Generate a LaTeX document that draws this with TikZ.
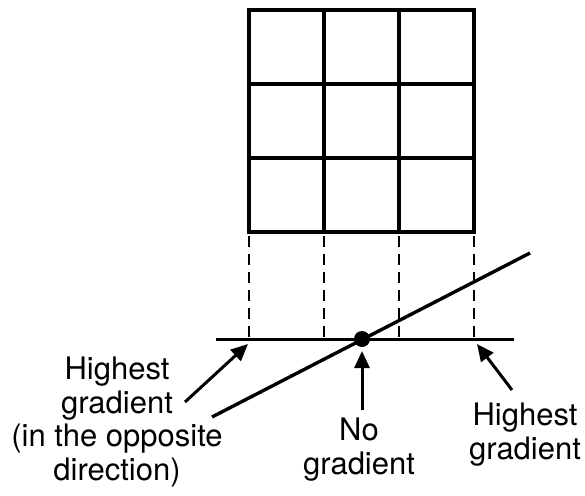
\documentclass[tikz,border=0pt]{standalone}
\usepackage{fontspec}
\setmainfont{TeX Gyre Heros}
\usetikzlibrary{arrows.meta,positioning}
\tikzset{
  gridline/.style={line width=3.2pt,line cap=rect},
  projline/.style={line width=2.5pt,dash pattern=on 11pt off 7pt},
  axisline/.style={line width=3pt},
  pointer/.style={line width=3pt,-{Triangle[length=17pt,width=15pt]}},
  label/.style={align=center,inner sep=0pt,anchor=north,font=\fontsize{31}{33.5}\selectfont}
}

\begin{document}
\begin{tikzpicture}[x=1pt,y=-1pt]
\useasboundingbox (0,0) rectangle (585,495);
% 3x3 grid of pixels
\foreach \x in {249,324,399,474} \draw[gridline] (\x,10) -- (\x,232);
\foreach \y in {10,84,158,232} \draw[gridline] (249,\y) -- (474,\y);
% projections down to the axis
\foreach \x in {249,324,399,474} \draw[projline] (\x,236) -- (\x,339);
% axis and profile
\coordinate (axisL) at (216,339);
\coordinate (axisR) at (514,339);
\draw[axisline] (axisL) -- (axisR);
\node[circle,fill,inner sep=0pt,minimum size=16pt] (zero) at (362,339) {};
\coordinate (profL) at (212,417);
\coordinate (profR) at (530,253);
\draw[line width=3.4pt] (profL) -- (profR);
% labels
\node[label] (leftlab) at (117,357) {Highest\\gradient\\(in the opposite\\direction)};
\node[label] (midlab) at (359,418) {No\\gradient};
\node[label] (rightlab) at (525,403) {Highest\\gradient};
% pointers
\coordinate (leftfrom) at (185,402);
\coordinate (leftto) at (248,344);
\coordinate (midfrom) at (362,410);
\coordinate (midto) at (362,351);
\coordinate (rightfrom) at (512,390);
\coordinate (rightto) at (477,344);
\draw[pointer] (leftfrom) -- (leftto);
\draw[pointer] (midfrom) -- (midto);
\draw[pointer] (rightfrom) -- (rightto);
\end{tikzpicture}
\end{document}
